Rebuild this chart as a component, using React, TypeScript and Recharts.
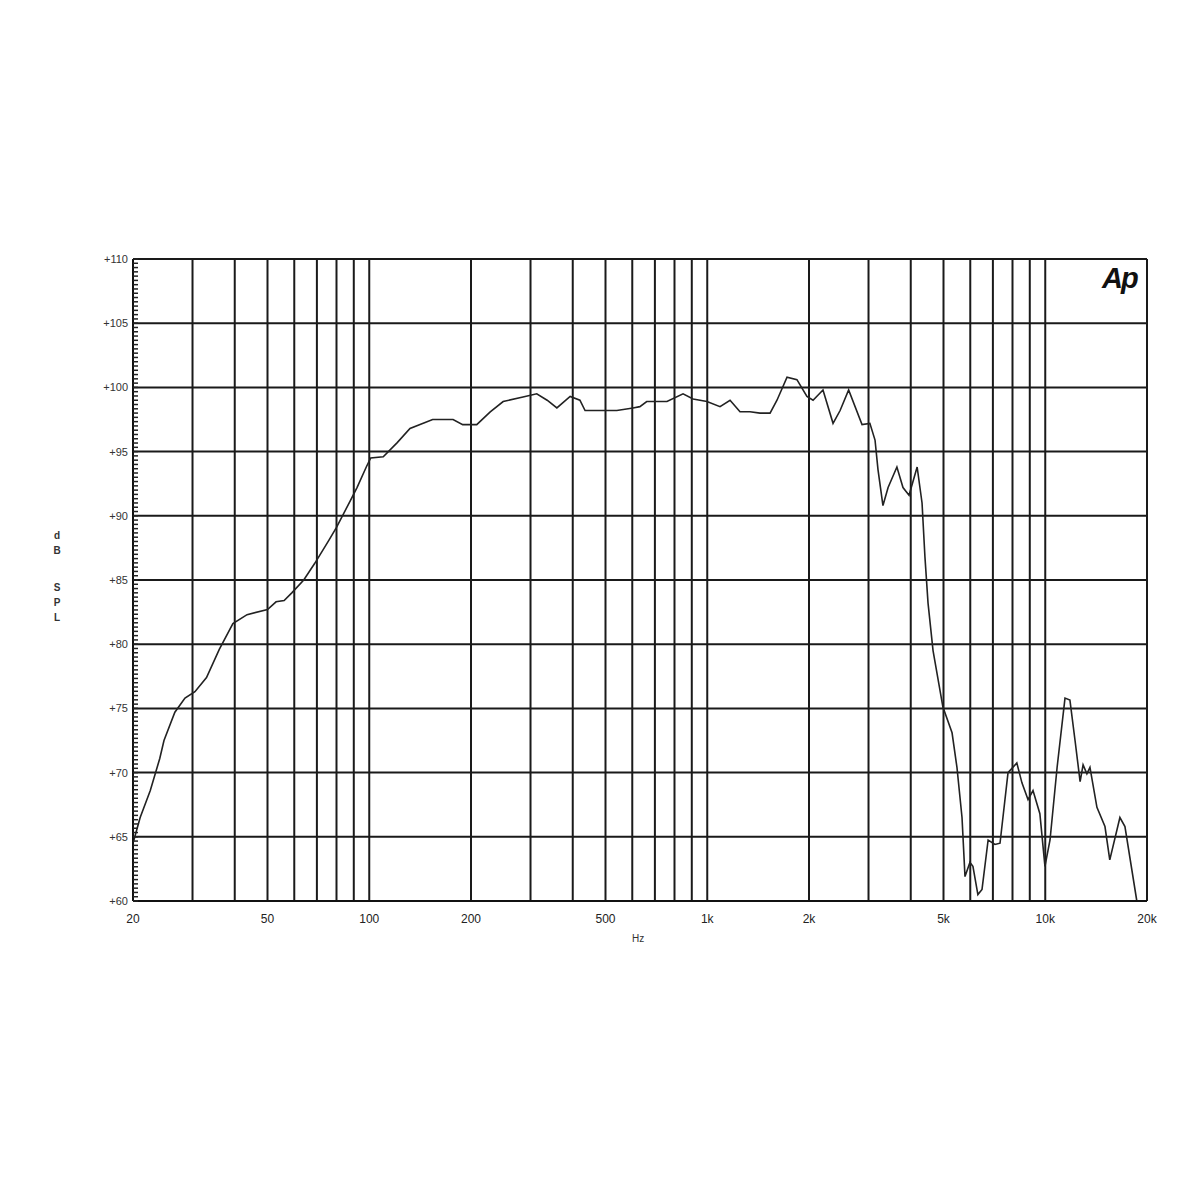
import { LineChart, Line, XAxis, YAxis, CartesianGrid, ReferenceLine } from "recharts";

// frequency response (Hz, dB SPL)
const freqs = [
  20, 21, 22.5, 24, 24.7, 26.6, 28.5, 30.5, 33, 36, 39.5, 43.5, 50, 53, 56, 59, 64, 69, 76, 80, 88, 92, 98,
  101, 110, 121, 132, 154, 177, 189, 208, 228, 249, 285, 313, 336, 359, 393, 420, 435, 482, 540, 603, 632,
  662, 760, 848, 908, 998, 1091, 1168, 1250, 1338, 1432, 1534, 1608, 1722, 1842, 1972, 2056, 2200, 2356,
  2472, 2620, 2870, 3028, 3136, 3200, 3310, 3428, 3640, 3794, 3954, 4178, 4320, 4406, 4500, 4656, 4980,
  5300, 5480, 5672, 5788, 5986, 6110, 6320, 6500, 6776, 7100, 7348, 7760, 8240, 8532, 8892, 9200, 9640,
  9980, 10330, 10840, 11440, 11830, 12250, 12680, 12940, 13280, 13560, 14220, 15020, 15520, 16630, 17210,
  18660,
];
const spl = [
  64.5, 66.5, 68.6, 71.1, 72.5, 74.7, 75.8, 76.3, 77.4, 79.6, 81.6, 82.3, 82.7, 83.3, 83.4, 84.0, 85.0,
  86.3, 88.1, 89.1, 91.2, 92.2, 93.8, 94.5, 94.6, 95.7, 96.8, 97.5, 97.5, 97.1, 97.1, 98.1, 98.9, 99.25,
  99.5, 99.0, 98.4, 99.3, 99.0, 98.2, 98.2, 98.2, 98.4, 98.5, 98.9, 98.9, 99.5, 99.1, 98.9, 98.5, 99.0,
  98.1, 98.1, 98.0, 98.0, 99.0, 100.8, 100.6, 99.3, 99.0, 99.8, 97.2, 98.2, 99.8, 97.1, 97.2, 95.9, 93.6,
  90.8, 92.2, 93.8, 92.2, 91.6, 93.8, 91.0, 86.8, 83.2, 79.5, 75.1, 73.1, 70.4, 66.5, 61.9, 63.0, 62.7,
  60.5, 60.9, 64.75, 64.4, 64.5, 70.0, 70.75, 69.2, 67.9, 68.6, 66.8, 62.7, 64.75, 70.4, 75.8, 75.65,
  72.5, 69.3, 70.6, 69.9, 70.4, 67.3, 65.8, 63.2, 66.5, 65.8, 60.0,
];

const gridFreqs = [
  20, 30, 40, 50, 60, 70, 80, 90, 100, 200, 300, 400, 500, 600, 700, 800, 900, 1000, 2000, 3000, 4000,
  5000, 6000, 7000, 8000, 9000, 10000, 20000,
];
const freqLabels: Record<number, string> = {
  20: "20", 50: "50", 100: "100", 200: "200", 500: "500",
  1000: "1k", 2000: "2k", 5000: "5k", 10000: "10k", 20000: "20k",
};
const dbLines = [60, 65, 70, 75, 80, 85, 90, 95, 100, 105, 110];
// minor ticks every 1/3 dB along the left axis
const dbTicks = Array.from({ length: 151 }, (_, i) => Math.round((60 + i / 3) * 1000) / 1000);

const data = freqs.map((f, i) => ({ f, db: spl[i] }));

const FONT = "'Liberation Sans', Arial, sans-serif";

const XTick = ({ x, y, payload }: any) => {
  const label = freqLabels[payload.value];
  if (!label) return <g />;
  return (
    <text x={x} y={y + 14} textAnchor="middle" fontSize={12} fontFamily={FONT} fill="#222">
      {label}
    </text>
  );
};

const YTick = ({ y, payload }: any) => {
  const v = payload.value;
  const major = Math.abs(v - Math.round(v)) < 0.01 && Math.round(v) % 5 === 0;
  return (
    <g>
      <line x1={133} x2={138} y1={y} y2={y} stroke="#222" strokeWidth={1.5} />
      {major && (
        <text x={128} y={y + 4} textAnchor="end" fontSize={11} fontFamily={FONT} fill="#333">
          {"+" + Math.round(v)}
        </text>
      )}
    </g>
  );
};

export default function App() {
  return (
    <div style={{ position: "absolute", left: 0, top: 0, width: 1200, height: 1200, background: "#fff" }}>
      <LineChart width={1200} height={1200} data={data} margin={{ top: 259, right: 53, bottom: 269, left: 0 }}>
        <CartesianGrid stroke="#1a1a1a" strokeWidth={2} horizontal={false} />
        {dbLines.map((v) => (
          <ReferenceLine key={v} y={v} stroke="#1a1a1a" strokeWidth={2} />
        ))}
        <XAxis
          dataKey="f"
          type="number"
          scale="log"
          domain={[20, 20000]}
          ticks={gridFreqs}
          interval={0}
          tick={XTick}
          tickLine={false}
          axisLine={{ stroke: "#111", strokeWidth: 2 }}
          height={30}
        />
        <YAxis
          type="number"
          domain={[60, 110]}
          ticks={dbTicks}
          interval={0}
          width={133}
          tick={YTick}
          tickLine={false}
          axisLine={{ stroke: "#111", strokeWidth: 2 }}
        />
        <Line
          dataKey="db"
          type="linear"
          stroke="#222"
          strokeWidth={1.6}
          dot={false}
          isAnimationActive={false}
        />
      </LineChart>
      <div style={{ position: "absolute", left: 632, top: 933, fontFamily: FONT, fontSize: 10, color: "#333" }}>
        Hz
      </div>
      <div
        style={{
          position: "absolute", left: 52, top: 528, width: 10, fontFamily: FONT, fontSize: 10,
          fontWeight: "bold", color: "#333", lineHeight: "15px", textAlign: "center",
        }}
      >
        <div>d</div>
        <div>B</div>
        <div style={{ height: 22 }} />
        <div>S</div>
        <div>P</div>
        <div>L</div>
      </div>
      <div
        style={{
          position: "absolute", left: 1102, top: 262, fontFamily: FONT, fontSize: 29,
          fontWeight: "bold", fontStyle: "italic", letterSpacing: -2, color: "#111",
        }}
      >
        Ap
      </div>
    </div>
  );
}
